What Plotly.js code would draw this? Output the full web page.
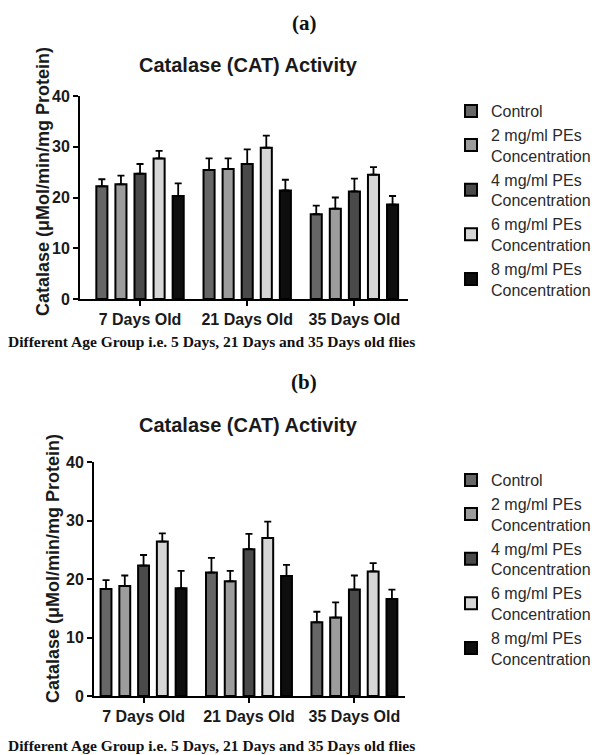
<!DOCTYPE html>
<html>
<head>
<meta charset="utf-8">
<script src="https://cdn.plot.ly/plotly-3.0.1.min.js"></script>
<style>html,body{margin:0;padding:0;background:#fff}#chart{width:600px;height:755px}</style>
</head>
<body>
<div id="chart"></div>
<script>
// ---- data ----
const groups = ['7 Days Old', '21 Days Old', '35 Days Old'];
const seriesNames = ['Control', '2 mg/ml PEs<br>Concentration', '4 mg/ml PEs<br>Concentration', '6 mg/ml PEs<br>Concentration', '8 mg/ml PEs<br>Concentration'];
const seriesColors = ['#666666', '#9c9c9c', '#4a4a4a', '#d6d6d6', '#0e0e0e'];
const yTicks = [0, 10, 20, 30, 40];

// Panel (a)
const aControl = [22.2, 25.4, 16.7];
const a2mg     = [22.6, 25.6, 17.8];
const a4mg     = [24.7, 26.6, 21.2];
const a6mg     = [27.7, 29.8, 24.5];
const a8mg     = [20.3, 21.4, 18.6];
const aControlErr = [1.4, 2.3, 1.7];
const a2mgErr     = [1.7, 2.1, 2.2];
const a4mgErr     = [1.9, 2.9, 2.5];
const a6mgErr     = [1.5, 2.4, 1.5];
const a8mgErr     = [2.5, 2.1, 1.7];

// Panel (b)
const bControl = [18.3, 21.1, 12.6];
const b2mg     = [18.8, 19.6, 13.4];
const b4mg     = [22.3, 25.1, 18.2];
const b6mg     = [26.4, 27.0, 21.3];
const b8mg     = [18.4, 20.5, 16.6];
const bControlErr = [1.5, 2.5, 1.8];
const b2mgErr     = [1.8, 1.8, 2.6];
const b4mgErr     = [1.8, 2.6, 2.4];
const b6mgErr     = [1.4, 2.8, 1.4];
const b8mgErr     = [3.0, 1.9, 1.6];

const chartTitle = 'Catalase (CAT) Activity';
const yTitle = 'Catalase (μMol/min/mg Protein)';
const xTitle = 'Different Age Group i.e. 5 Days, 21 Days and 35 Days old flies';

// ---- build ----
const W = 600, H = 755;
const px = v => v / W;
const py = v => 1 - v / H;
const SANS = 'Liberation Sans, Arial, sans-serif';
const SERIF = 'Liberation Serif, Times New Roman, serif';

const aVals = [aControl, a2mg, a4mg, a6mg, a8mg];
const aErrs = [aControlErr, a2mgErr, a4mgErr, a6mgErr, a8mgErr];
const bVals = [bControl, b2mg, b4mg, b6mg, b8mg];
const bErrs = [bControlErr, b2mgErr, b4mgErr, b6mgErr, b8mgErr];

function makeTraces(vals, errs, xa, ya, legendName, grpPrefix) {
  return vals.map((v, i) => ({
    type: 'bar',
    x: groups,
    y: v,
    name: seriesNames[i],
    xaxis: xa, yaxis: ya,
    legend: legendName,
    legendgroup: grpPrefix + i,
    marker: {color: seriesColors[i], line: {color: '#000', width: 2}},
    error_y: {type: 'data', array: errs[i], arrayminus: errs[i].map(() => 0), symmetric: false,
              color: '#000', thickness: 1.8, width: 3.5},
    hoverinfo: 'x+y+name'
  }));
}

const traces = [
  ...makeTraces(aVals, aErrs, 'x', 'y', 'legend', 'a'),
  ...makeTraces(bVals, bErrs, 'x2', 'y2', 'legend2', 'b')
];

const axisCommon = {
  showline: true, linecolor: '#000', linewidth: 2,
  ticks: 'outside', tickcolor: '#000', tickwidth: 2, ticklen: 5,
  showgrid: false, zeroline: false,
  tickfont: {family: SANS, size: 16, weight: 'bold', color: '#1a1a1a'}
};

const legendCommon = {
  xanchor: 'left', yanchor: 'top',
  font: {family: SANS, size: 16, color: '#2a2a2a'},
  bgcolor: 'rgba(0,0,0,0)', traceorder: 'normal'
};

function ann(text, x, y, font, extra) {
  return Object.assign({text, x: px(x), y: py(y), xref: 'paper', yref: 'paper',
    showarrow: false, xanchor: 'center', yanchor: 'middle', font}, extra || {});
}

const layout = {
  width: W, height: H,
  margin: {l: 0, r: 0, t: 0, b: 0},
  paper_bgcolor: '#fff', plot_bgcolor: '#fff',
  barmode: 'group', bargap: 0.11, bargroupgap: 0.42,
  showlegend: true,
  xaxis: Object.assign({}, axisCommon, {domain: [px(80), px(408)], range: [-0.56, 2.5], anchor: 'y', type: 'category'}),
  yaxis: Object.assign({}, axisCommon, {domain: [py(299), py(96)], range: [0, 40], tickvals: yTicks, anchor: 'x'}),
  xaxis2: Object.assign({}, axisCommon, {domain: [px(94), px(405)], range: [-0.47, 2.48], anchor: 'y2', type: 'category'}),
  yaxis2: Object.assign({}, axisCommon, {domain: [py(696), py(462)], range: [0, 40], tickvals: yTicks, anchor: 'x2'}),
  legend: Object.assign({}, legendCommon, {x: px(451), y: py(94), tracegroupgap: 2}),
  legend2: Object.assign({}, legendCommon, {x: px(451), y: py(463), tracegroupgap: 6}),
  annotations: [
    ann('(a)', 304, 23, {family: SERIF, size: 21, weight: 'bold', color: '#111'}),
    ann(chartTitle, 248, 65, {family: SANS, size: 20, weight: 'bold', color: '#1a1a1a'}),
    ann(yTitle, 43, 182, {family: SANS, size: 18, weight: 'bold', color: '#1a1a1a'}, {textangle: -90}),
    ann(xTitle, 211, 341, {family: SERIF, size: 15.5, weight: 'bold', color: '#111'}),
    ann('(b)', 304, 382, {family: SERIF, size: 21, weight: 'bold', color: '#111'}),
    ann(chartTitle, 248, 425, {family: SANS, size: 20, weight: 'bold', color: '#1a1a1a'}),
    ann(yTitle, 53, 569, {family: SANS, size: 18, weight: 'bold', color: '#1a1a1a'}, {textangle: -90}),
    ann(xTitle, 211, 745, {family: SERIF, size: 15.5, weight: 'bold', color: '#111'})
  ]
};

Plotly.newPlot('chart', traces, layout, {displayModeBar: false, staticPlot: true});
</script>
</body>
</html>
